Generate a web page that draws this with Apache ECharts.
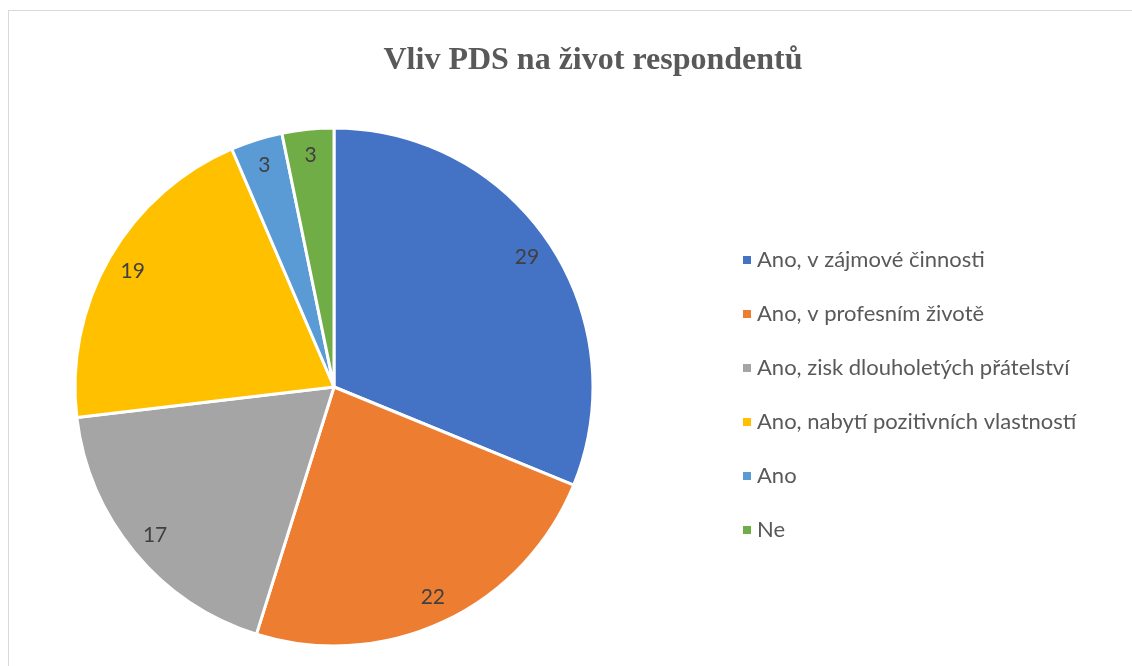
<!DOCTYPE html>
<html>
<head>
<meta charset="utf-8">
<script src="https://cdn.jsdelivr.net/npm/echarts@6/dist/echarts.min.js"></script>
<style>
  html, body { margin: 0; padding: 0; background: #fff; overflow: hidden; }
  #frame { position: absolute; left: 8px; top: 10px; width: 1200px; height: 700px; border: 1px solid #d9d9d9; box-sizing: border-box; }
  #chart { position: absolute; left: 0; top: 0; width: 1132px; height: 666px; }
</style>
</head>
<body>
<div id="frame"></div>
<div id="chart"></div>
<script>
  // kategorie a hodnoty
  var categories = ['Ano, v zájmové činnosti', 'Ano, v profesním životě', 'Ano, zisk dlouholetých přátelství', 'Ano, nabytí pozitivních vlastností', 'Ano', 'Ne']
  var values = [29, 22, 17, 19, 3, 3]
  var colors = ['#4472C4', '#ED7D31', '#A5A5A5', '#FFC000', '#5B9BD5', '#70AD47']

  var pieData = categories.map(function (name, i) {
    return { name: name, value: values[i] }
  })

  var chart = echarts.init(document.getElementById('chart'))
  chart.setOption({
    animation: false,
    color: colors,
    title: {
      text: 'Vliv PDS na život respondentů',
      left: 588,
      textAlign: 'center',
      top: 40,
      textStyle: {
        fontFamily: 'Liberation Serif',
        fontWeight: 'bold',
        fontSize: 32,
        color: '#595959'
      }
    },
    legend: {
      orient: 'vertical',
      left: 736,
      top: 244,
      itemWidth: 10,
      itemHeight: 10,
      itemGap: 32,
      icon: 'rect',
      data: categories,
      textStyle: {
        fontFamily: 'Lato',
        fontSize: 22,
        color: '#595959'
      }
    },
    series: [
      {
        type: 'pie',
        center: [334, 387],
        radius: [0, 259],
        startAngle: 90,
        clockwise: true,
        data: pieData,
        itemStyle: { borderColor: '#fff', borderWidth: 3 },
        label: { show: false },
        labelLine: { show: false },
        emphasis: { disabled: true }
      },
      {
        // jen popisky, umístěné blíž k okraji
        type: 'pie',
        center: [334, 387],
        radius: [200, 259],
        startAngle: 90,
        clockwise: true,
        silent: true,
        data: pieData,
        itemStyle: { color: 'rgba(0,0,0,0)', borderWidth: 0 },
        label: {
          show: true,
          position: 'inside',
          formatter: '{c}',
          fontFamily: 'Lato',
          fontSize: 21,
          color: '#404040'
        },
        labelLine: { show: false },
        emphasis: { disabled: true }
      }
    ]
  })
</script>
</body>
</html>
